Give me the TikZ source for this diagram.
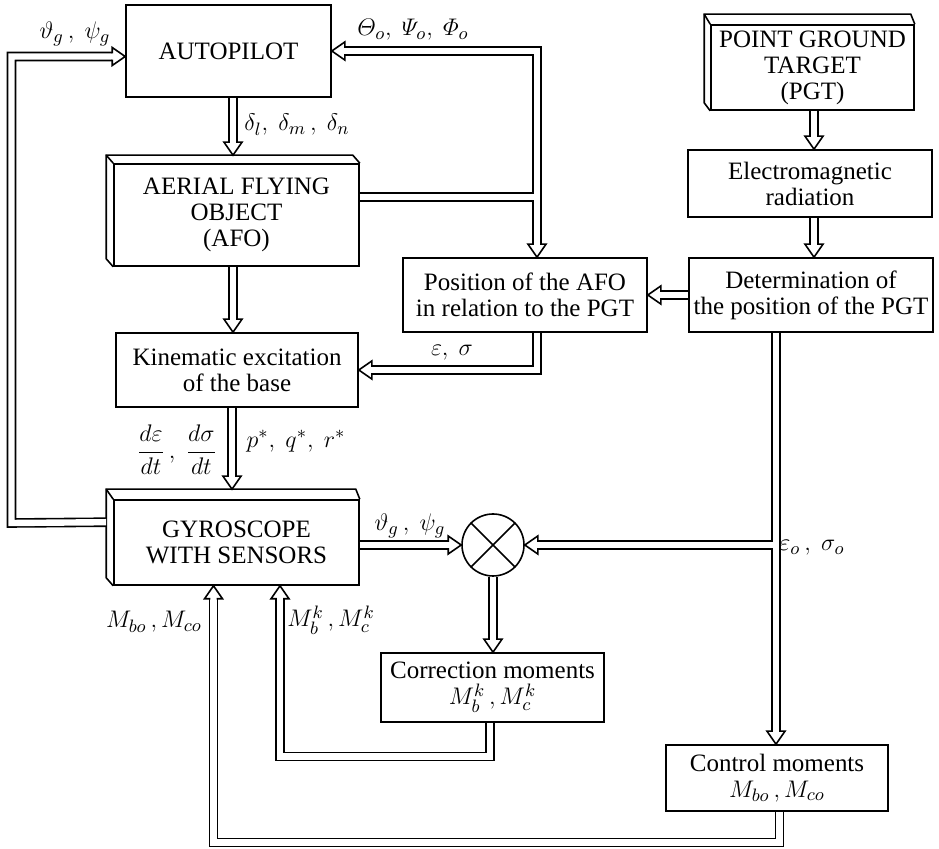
\documentclass[tikz,border=0pt]{standalone}
\usepackage{amsmath}
\usepackage{fontspec}
\setmainfont{Liberation Serif}
\usetikzlibrary{calc}
\newcommand\bfs{\fontsize{12.5}{13}\selectfont}
\begin{document}
\begin{tikzpicture}[x=0.5pt,y=-0.5pt,
  box/.style={draw, line width=0.8pt, align=center, inner sep=0pt, font=\bfs, shape=rectangle},
  face/.style={draw, line width=0.8pt, line join=miter},
  dbl/.style={draw, line width=0.8pt, double, double distance=3.2pt, line join=miter},
  dbla/.style={dbl, shorten >=6.5pt},
  lbl/.style={font=\bfs, inner sep=0pt},
  ahead/.pic={\draw[line width=0.8pt, fill=white, line join=miter] (-13,3.2) -- (-13,9) -- (0,0) -- (-13,-9) -- (-13,-3.2);}
]
\useasboundingbox (0,0) rectangle (939,849);

% boxes
\node[box, minimum width=102.5pt, minimum height=46pt] (ap) at (228.5,51) {AUTOPILOT};
\node[box, minimum width=122.5pt, minimum height=51pt] (afo) at (236.5,215) {AERIAL FLYING\\OBJECT\\(AFO)};
\node[box, minimum width=121pt, minimum height=37pt] (kin) at (237,370) {Kinematic excitation\\of the base};
\node[box, minimum width=122.5pt, minimum height=42.5pt] (gyro) at (236.5,542.5) {GYROSCOPE\\WITH SENSORS};
\node[box, minimum width=122pt, minimum height=37pt] (pos) at (525,295) {Position of the AFO\\in relation to the PGT};
\node[box, minimum width=101.5pt, minimum height=42.5pt] (pgt) at (812.5,67.5) {POINT GROUND\\TARGET\\(PGT)};
\node[box, minimum width=122pt, minimum height=33.5pt] (em) at (810,183.5) {Electromagnetic\\radiation};
\node[box, minimum width=122pt, minimum height=37pt] (det) at (811,295) {Determination of\\the position of the PGT};
\node[box, minimum width=111.5pt, minimum height=34.5pt] (corr) at (492.5,687.5) {Correction moments\\$M_b^k\,, M_c^k$};
\node[box, minimum width=111pt, minimum height=33pt] (ctrl) at (777,778) {Control moments\\$M_{bo}\,, M_{co}$};
\node[draw, circle, line width=0.8pt, minimum size=31pt, inner sep=0pt] (sum) at (493,545) {};
\draw[line width=0.8pt] (sum.north west) -- (sum.south east) (sum.north east) -- (sum.south west);

% 3D faces
\draw[face] (afo.south west) -- ++(-7,-8) -- ($(afo.north west)+(-7,-8)$) -- ($(afo.north east)+(-7,-8)$) -- (afo.north east);
\draw[face] (afo.north west) -- ++(-7,-8);
\draw[face] (gyro.south west) -- ++(-7,-8) -- ($(gyro.north west)+(-7,-10)$) -- ($(gyro.north east)+(-4,-10)$) -- (gyro.north east);
\draw[face] (gyro.north west) -- ++(-7,-10);
\draw[face] (pgt.south west) -- ++(-6,-8) -- ($(pgt.north west)+(-6,-10)$) -- ($(pgt.north east)+(-4,-10)$) -- (pgt.north east);
\draw[face] (pgt.north west) -- ++(-6,-10);

% connectors
\coordinate (a1) at ($(ap.west)+(0,5.5)$);
\draw[dbla] ($(gyro.north west)+(-7,23)$) -- (11.5,523) -- (11.5,56.5) -- (a1);
\path (a1) pic{ahead};

\coordinate (a2) at ($(afo.north)+(-3.5,-8)$);
\draw[dbla] ($(ap.south)+(4.5,0)$) -- (a2);
\path (a2) pic[rotate=-90]{ahead};

\coordinate (a3) at ($(kin.north)+(-4,0)$);
\draw[dbla] ($(afo.south)+(-3.5,0)$) -- (a3);
\path (a3) pic[rotate=-90]{ahead};

\coordinate (a4) at ($(gyro.north)+(-4.5,-10)$);
\draw[dbla] ($(kin.south)+(-5,0)$) -- (a4);
\path (a4) pic[rotate=-90]{ahead};

\draw[dbla] ($(afo.east)+(0,-18)$) -- (537,197) -- (537,51) -- (ap.east);
\path (ap.east) pic[rotate=180]{ahead};
\coordinate (a6) at ($(pos.north)+(12,0)$);
\draw[dbla] (537,200.2) -- (a6);
\path (a6) pic[rotate=-90]{ahead};

\draw[dbla] ($(pos.south)+(12,0)$) -- (537,370) -- (kin.east);
\path (kin.east) pic[rotate=180]{ahead};

\draw[dbla] (det.west) -- (pos.east);
\path (pos.east) pic[rotate=180]{ahead};

\coordinate (a9) at ($(em.north)+(4,0)$);
\draw[dbla] ($(pgt.south)+(1.5,0)$) -- (a9);
\path (a9) pic[rotate=-90]{ahead};

\coordinate (a10) at ($(det.north)+(3,0)$);
\draw[dbla] ($(em.south)+(4,0)$) -- (a10);
\path (a10) pic[rotate=-90]{ahead};

\draw[dbla] ($(det.south)+(-35,0)$) -- (776,545) -- (sum.east);
\path (sum.east) pic[rotate=180]{ahead};
\coordinate (a12) at ($(ctrl.north)+(-1,0)$);
\draw[dbla] (776,548.2) -- (a12);
\path (a12) pic[rotate=-90]{ahead};

\draw[dbla] ($(gyro.east)+(0,2.5)$) -- (sum.west);
\path (sum.west) pic{ahead};

\coordinate (a14) at ($(corr.north)+(0.5,0)$);
\draw[dbla] (sum.south) -- (a14);
\path (a14) pic[rotate=-90]{ahead};

\coordinate (a15) at ($(gyro.south)+(43.5,0)$);
\draw[dbla] ($(corr.south)+(-2.5,0)$) -- (490,756.5) -- (280,756.5) -- (a15);
\path (a15) pic[rotate=90]{ahead};

\coordinate (a16) at ($(gyro.south)+(-23,0)$);
\draw[dbla] ($(ctrl.south)+(2.5,0)$) -- (779.5,842.5) -- (213.5,842.5) -- (a16);
\path (a16) pic[rotate=90]{ahead};

% labels
\node[lbl] (l1) at (75,34) {$\vartheta_g\,,\ \psi_g$};
\node[lbl] (l2) at (413,30) {$\varTheta_o,\ \varPsi_o,\ \varPhi_o$};
\node[lbl] (l3) at (297,125) {$\delta_l,\ \delta_m\,,\ \delta_n$};
\node[lbl] (l4) at (452,353) {$\varepsilon,\ \sigma$};
\node[lbl] (l5) at (177,450) {$\dfrac{d\varepsilon}{dt}\,,\ \dfrac{d\sigma}{dt}$};
\node[lbl] (l6) at (296,441) {$p^*,\ q^*,\ r^*$};
\node[lbl] (l7) at (410,526) {$\vartheta_g\,,\ \psi_g$};
\node[lbl] (l8) at (812,548) {$\varepsilon_o\,,\ \sigma_o$};
\node[lbl] (l9) at (154,622) {$M_{bo}\,, M_{co}$};
\node[lbl] (l10) at (331,620) {$M_b^k\,, M_c^k$};
\end{tikzpicture}
\end{document}
